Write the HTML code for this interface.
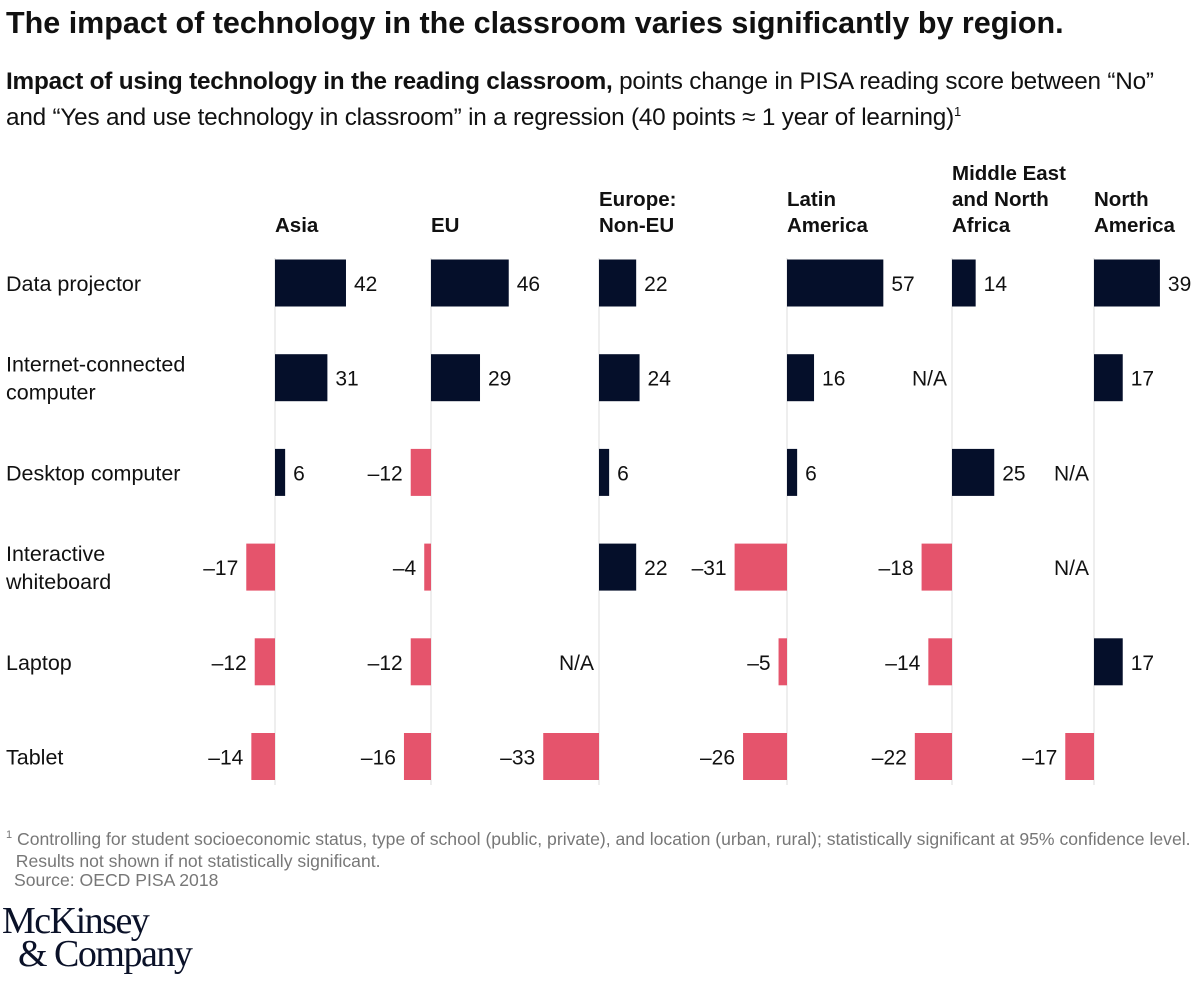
<!DOCTYPE html>
<html><head><meta charset="utf-8">
<style>
body{margin:0;width:1200px;height:987px;background:#fff;font-family:"Liberation Sans",sans-serif;color:#0a1128;overflow:hidden;position:relative}
.t{position:absolute;white-space:nowrap}
</style></head>
<body>
<div class="t" style="left:6px;top:6px;font-size:30.5px;font-weight:bold;color:#111">The impact of technology in the classroom varies significantly by region.</div>
<div class="t" style="left:6px;top:67px;font-size:24.3px;line-height:30px;color:#111;letter-spacing:-0.2px"><b>Impact of using technology in the reading classroom,</b> points change in PISA reading score between “No”<br>and “Yes and use technology in classroom” in a regression (40 points ≈ 1 year of learning)<sup style="font-size:13px">1</sup></div>
<svg id="chart" width="1200" height="800" style="position:absolute;left:0;top:0" font-family="Liberation Sans, sans-serif"></svg>
<div class="t" style="left:6px;top:824px;font-size:17.6px;line-height:22px;color:#777"><sup style="font-size:11px">1</sup> Controlling for student socioeconomic status, type of school (public, private), and location (urban, rural); statistically significant at 95% confidence level.<br>&nbsp;&nbsp;Results not shown if not statistically significant.</div>
<div class="t" style="left:14px;top:870px;font-size:17.6px;color:#777">Source: OECD PISA 2018</div>
<div class="t" style="left:2px;top:905px;font-family:'Liberation Serif',serif;font-size:38px;line-height:33px;color:#0a1128;letter-spacing:-1.5px">McKinsey<br>&nbsp;&nbsp;&amp; Company</div>
<script>
const categories=["Data projector","Internet-connected computer","Desktop computer","Interactive whiteboard","Laptop","Tablet"];
const categoryLines=[["Data projector"],["Internet-connected","computer"],["Desktop computer"],["Interactive","whiteboard"],["Laptop"],["Tablet"]];
const regions=["Asia","EU","Europe: Non-EU","Latin America","Middle East and North Africa","North America"];
const regionLines=[["Asia"],["EU"],["Europe:","Non-EU"],["Latin","America"],["Middle East","and North","Africa"],["North","America"]];
const asia=[42,31,6,-17,-12,-14];
const eu=[46,29,-12,-4,-12,-16];
const europeNonEu=[22,24,6,22,null,-33];
const latinAmerica=[57,16,6,-31,-5,-26];
const mena=[14,null,25,-18,-14,-22];
const northAmerica=[39,17,null,null,17,-17];
const series=[asia,eu,europeNonEu,latinAmerica,mena,northAmerica];
const axisX=[275,431,599,787,952,1094];
const svg=document.getElementById('chart');
const NS='http://www.w3.org/2000/svg';
const k=1.69, bh=47;
function xs(r,v){return axisX[r]+v*k;}
function yc(i){return 283+i*94.7;}
function mk(tag,a){const e=document.createElementNS(NS,tag);for(const n in a)e.setAttribute(n,a[n]);svg.appendChild(e);return e;}
function fmt(v){return v<0?'\u2013'+(-v):String(v);}
categoryLines.forEach((ls,i)=>{
  const t=mk('text',{x:6,y:yc(i)+8-(ls.length-1)*14,'font-size':21.5,fill:'#111'});
  
  
  ls.forEach((l,j)=>{const s=document.createElementNS(NS,'tspan');s.setAttribute('x',6);if(j)s.setAttribute('dy',28);s.textContent=l;t.appendChild(s);});
});
regionLines.forEach((ls,r)=>{
  const t=mk('text',{x:axisX[r],y:232-(ls.length-1)*26,'font-size':20.5,'font-weight':'bold',fill:'#111'});
  
  
  ls.forEach((l,j)=>{const s=document.createElementNS(NS,'tspan');s.setAttribute('x',axisX[r]);if(j)s.setAttribute('dy',26);s.textContent=l;t.appendChild(s);});
  const ln=mk('line',{x1:axisX[r],x2:axisX[r],y1:258,y2:785,stroke:'#dcdcdc','stroke-width':1});
  
  
});
series.forEach((vals,r)=>{
  vals.forEach((v,i)=>{
    const y=yc(i);
    if(v===null){
      const t=mk('text',{x:axisX[r]-5,y:y+8,'font-size':21,fill:'#111','text-anchor':'end'});
      
      
      t.textContent='N/A';return;
    }
    const x0=Math.min(xs(r,0),xs(r,v)),w=Math.abs(xs(r,v)-xs(r,0));
    const b=mk('rect',{x:x0,y:y-bh/2,width:w,height:bh,fill:v<0?'#e5546c':'#050f2a'});
    
    
    const t=mk('text',{x:v<0?xs(r,v)-8:xs(r,v)+8,y:y+8,'font-size':21,fill:'#111','text-anchor':v<0?'end':'start'});
    
    
    t.textContent=fmt(v);
  });
});
</script>
</body></html>
